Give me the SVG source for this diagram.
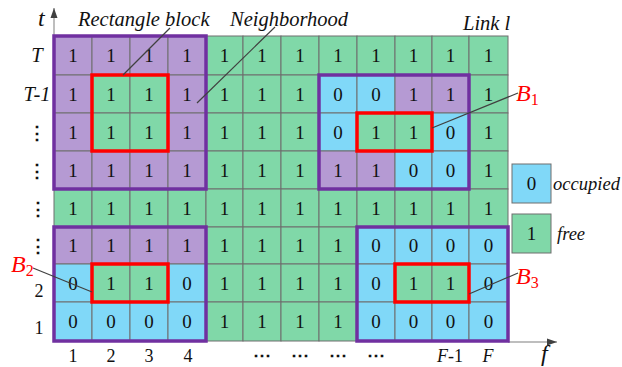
<svg xmlns="http://www.w3.org/2000/svg" width="622" height="367" viewBox="0 0 622 367">
  <defs>
    <style>
      .p { fill: #B59AD3; stroke: #6E6E6E; stroke-width: 1; }
      .g { fill: #80D8A8; stroke: #6E6E6E; stroke-width: 1; }
      .b { fill: #80D8F8; stroke: #6E6E6E; stroke-width: 1; }
      .v { font-family: "Liberation Serif", "Times New Roman", serif; font-size: 19px; fill: #111; text-anchor: middle; }
      .lab { font-family: "Liberation Serif", "Times New Roman", serif; font-size: 20.5px; font-style: italic; fill: #111; }
      .leg { font-family: "Liberation Serif", "Times New Roman", serif; font-size: 18.5px; font-style: italic; fill: #111; }
      .ax { font-family: "Liberation Serif", "Times New Roman", serif; font-size: 18px; fill: #111; text-anchor: middle; }
      .red { font-family: "Liberation Serif", "Times New Roman", serif; font-style: italic; font-size: 24px; fill: #FF0000; }
      .nb { fill: none; stroke: #7030A0; stroke-width: 3.5; }
      .rb { fill: none; stroke: #FF0000; stroke-width: 3.5; }
      .lead { stroke: #404040; stroke-width: 1.2; fill: none; }
      .axis { stroke: #A8A8A8; stroke-width: 1.5; fill: none; }
    </style>
    <marker id="arr" viewBox="0 0 10 10" refX="10" refY="5" markerWidth="10" markerHeight="10" markerUnits="userSpaceOnUse" orient="auto">
      <path d="M0,1.5 L10,5 L0,8.5 Z" fill="#404040"/>
    </marker>
  </defs>

  <!-- axes -->
  <g id="axes">
    <line class="axis" x1="54" y1="36" x2="54" y2="8" marker-end="url(#arr)"/>
    <line class="axis" x1="508" y1="342" x2="557" y2="342" marker-end="url(#arr)"/>
    <text class="lab" x="38" y="26" style="font-size:24px">t</text>
    <text class="lab" x="541" y="361" style="font-size:24px">f</text>
  </g>

  <!-- spectrum grid: rows T .. 1, columns 1 .. F -->
  <g id="grid">
    <g id="row-T">
      <rect class="p" x="54" y="36" width="38" height="39"/><text class="v" x="73" y="62">1</text>
      <rect class="p" x="92" y="36" width="38" height="39"/><text class="v" x="111" y="62">1</text>
      <rect class="p" x="130" y="36" width="38" height="39"/><text class="v" x="149" y="62">1</text>
      <rect class="p" x="168" y="36" width="38" height="39"/><text class="v" x="187" y="62">1</text>
      <rect class="g" x="206" y="36" width="37" height="39"/><text class="v" x="224.5" y="62">1</text>
      <rect class="g" x="243" y="36" width="38" height="39"/><text class="v" x="262" y="62">1</text>
      <rect class="g" x="281" y="36" width="38" height="39"/><text class="v" x="300" y="62">1</text>
      <rect class="g" x="319" y="36" width="38" height="39"/><text class="v" x="338" y="62">1</text>
      <rect class="g" x="357" y="36" width="38" height="39"/><text class="v" x="376" y="62">1</text>
      <rect class="g" x="395" y="36" width="37" height="39"/><text class="v" x="413.5" y="62">1</text>
      <rect class="g" x="432" y="36" width="37" height="39"/><text class="v" x="450.5" y="62">1</text>
      <rect class="g" x="469" y="36" width="39" height="39"/><text class="v" x="488.5" y="62">1</text>
    </g>
    <g id="row-T-1">
      <rect class="p" x="54" y="75" width="38" height="38"/><text class="v" x="73" y="101">1</text>
      <rect class="g" x="92" y="75" width="38" height="38"/><text class="v" x="111" y="101">1</text>
      <rect class="g" x="130" y="75" width="38" height="38"/><text class="v" x="149" y="101">1</text>
      <rect class="p" x="168" y="75" width="38" height="38"/><text class="v" x="187" y="101">1</text>
      <rect class="g" x="206" y="75" width="37" height="38"/><text class="v" x="224.5" y="101">1</text>
      <rect class="g" x="243" y="75" width="38" height="38"/><text class="v" x="262" y="101">1</text>
      <rect class="g" x="281" y="75" width="38" height="38"/><text class="v" x="300" y="101">1</text>
      <rect class="b" x="319" y="75" width="38" height="38"/><text class="v" x="338" y="101">0</text>
      <rect class="b" x="357" y="75" width="38" height="38"/><text class="v" x="376" y="101">0</text>
      <rect class="p" x="395" y="75" width="37" height="38"/><text class="v" x="413.5" y="101">1</text>
      <rect class="p" x="432" y="75" width="37" height="38"/><text class="v" x="450.5" y="101">1</text>
      <rect class="g" x="469" y="75" width="39" height="38"/><text class="v" x="488.5" y="101">1</text>
    </g>
    <g id="row-3">
      <rect class="p" x="54" y="113" width="38" height="38"/><text class="v" x="73" y="139">1</text>
      <rect class="g" x="92" y="113" width="38" height="38"/><text class="v" x="111" y="139">1</text>
      <rect class="g" x="130" y="113" width="38" height="38"/><text class="v" x="149" y="139">1</text>
      <rect class="p" x="168" y="113" width="38" height="38"/><text class="v" x="187" y="139">1</text>
      <rect class="g" x="206" y="113" width="37" height="38"/><text class="v" x="224.5" y="139">1</text>
      <rect class="g" x="243" y="113" width="38" height="38"/><text class="v" x="262" y="139">1</text>
      <rect class="g" x="281" y="113" width="38" height="38"/><text class="v" x="300" y="139">1</text>
      <rect class="b" x="319" y="113" width="38" height="38"/><text class="v" x="338" y="139">0</text>
      <rect class="g" x="357" y="113" width="38" height="38"/><text class="v" x="376" y="139">1</text>
      <rect class="g" x="395" y="113" width="37" height="38"/><text class="v" x="413.5" y="139">1</text>
      <rect class="b" x="432" y="113" width="37" height="38"/><text class="v" x="450.5" y="139">0</text>
      <rect class="g" x="469" y="113" width="39" height="38"/><text class="v" x="488.5" y="139">1</text>
    </g>
    <g id="row-4">
      <rect class="p" x="54" y="151" width="38" height="38"/><text class="v" x="73" y="177">1</text>
      <rect class="p" x="92" y="151" width="38" height="38"/><text class="v" x="111" y="177">1</text>
      <rect class="p" x="130" y="151" width="38" height="38"/><text class="v" x="149" y="177">1</text>
      <rect class="p" x="168" y="151" width="38" height="38"/><text class="v" x="187" y="177">1</text>
      <rect class="g" x="206" y="151" width="37" height="38"/><text class="v" x="224.5" y="177">1</text>
      <rect class="g" x="243" y="151" width="38" height="38"/><text class="v" x="262" y="177">1</text>
      <rect class="g" x="281" y="151" width="38" height="38"/><text class="v" x="300" y="177">1</text>
      <rect class="p" x="319" y="151" width="38" height="38"/><text class="v" x="338" y="177">1</text>
      <rect class="p" x="357" y="151" width="38" height="38"/><text class="v" x="376" y="177">1</text>
      <rect class="b" x="395" y="151" width="37" height="38"/><text class="v" x="413.5" y="177">0</text>
      <rect class="b" x="432" y="151" width="37" height="38"/><text class="v" x="450.5" y="177">0</text>
      <rect class="g" x="469" y="151" width="39" height="38"/><text class="v" x="488.5" y="177">1</text>
    </g>
    <g id="row-5">
      <rect class="g" x="54" y="189" width="38" height="38"/><text class="v" x="73" y="215">1</text>
      <rect class="g" x="92" y="189" width="38" height="38"/><text class="v" x="111" y="215">1</text>
      <rect class="g" x="130" y="189" width="38" height="38"/><text class="v" x="149" y="215">1</text>
      <rect class="g" x="168" y="189" width="38" height="38"/><text class="v" x="187" y="215">1</text>
      <rect class="g" x="206" y="189" width="37" height="38"/><text class="v" x="224.5" y="215">1</text>
      <rect class="g" x="243" y="189" width="38" height="38"/><text class="v" x="262" y="215">1</text>
      <rect class="g" x="281" y="189" width="38" height="38"/><text class="v" x="300" y="215">1</text>
      <rect class="g" x="319" y="189" width="38" height="38"/><text class="v" x="338" y="215">1</text>
      <rect class="g" x="357" y="189" width="38" height="38"/><text class="v" x="376" y="215">1</text>
      <rect class="g" x="395" y="189" width="37" height="38"/><text class="v" x="413.5" y="215">1</text>
      <rect class="g" x="432" y="189" width="37" height="38"/><text class="v" x="450.5" y="215">1</text>
      <rect class="g" x="469" y="189" width="39" height="38"/><text class="v" x="488.5" y="215">1</text>
    </g>
    <g id="row-6">
      <rect class="p" x="54" y="227" width="38" height="37"/><text class="v" x="73" y="252">1</text>
      <rect class="p" x="92" y="227" width="38" height="37"/><text class="v" x="111" y="252">1</text>
      <rect class="p" x="130" y="227" width="38" height="37"/><text class="v" x="149" y="252">1</text>
      <rect class="p" x="168" y="227" width="38" height="37"/><text class="v" x="187" y="252">1</text>
      <rect class="g" x="206" y="227" width="37" height="37"/><text class="v" x="224.5" y="252">1</text>
      <rect class="g" x="243" y="227" width="38" height="37"/><text class="v" x="262" y="252">1</text>
      <rect class="g" x="281" y="227" width="38" height="37"/><text class="v" x="300" y="252">1</text>
      <rect class="g" x="319" y="227" width="38" height="37"/><text class="v" x="338" y="252">1</text>
      <rect class="b" x="357" y="227" width="38" height="37"/><text class="v" x="376" y="252">0</text>
      <rect class="b" x="395" y="227" width="37" height="37"/><text class="v" x="413.5" y="252">0</text>
      <rect class="b" x="432" y="227" width="37" height="37"/><text class="v" x="450.5" y="252">0</text>
      <rect class="b" x="469" y="227" width="39" height="37"/><text class="v" x="488.5" y="252">0</text>
    </g>
    <g id="row-2">
      <rect class="b" x="54" y="264" width="38" height="38"/><text class="v" x="73" y="290">0</text>
      <rect class="g" x="92" y="264" width="38" height="38"/><text class="v" x="111" y="290">1</text>
      <rect class="g" x="130" y="264" width="38" height="38"/><text class="v" x="149" y="290">1</text>
      <rect class="b" x="168" y="264" width="38" height="38"/><text class="v" x="187" y="290">0</text>
      <rect class="g" x="206" y="264" width="37" height="38"/><text class="v" x="224.5" y="290">1</text>
      <rect class="g" x="243" y="264" width="38" height="38"/><text class="v" x="262" y="290">1</text>
      <rect class="g" x="281" y="264" width="38" height="38"/><text class="v" x="300" y="290">1</text>
      <rect class="g" x="319" y="264" width="38" height="38"/><text class="v" x="338" y="290">1</text>
      <rect class="b" x="357" y="264" width="38" height="38"/><text class="v" x="376" y="290">0</text>
      <rect class="g" x="395" y="264" width="37" height="38"/><text class="v" x="413.5" y="290">1</text>
      <rect class="g" x="432" y="264" width="37" height="38"/><text class="v" x="450.5" y="290">1</text>
      <rect class="b" x="469" y="264" width="39" height="38"/><text class="v" x="488.5" y="290">0</text>
    </g>
    <g id="row-1">
      <rect class="b" x="54" y="302" width="38" height="39"/><text class="v" x="73" y="328">0</text>
      <rect class="b" x="92" y="302" width="38" height="39"/><text class="v" x="111" y="328">0</text>
      <rect class="b" x="130" y="302" width="38" height="39"/><text class="v" x="149" y="328">0</text>
      <rect class="b" x="168" y="302" width="38" height="39"/><text class="v" x="187" y="328">0</text>
      <rect class="g" x="206" y="302" width="37" height="39"/><text class="v" x="224.5" y="328">1</text>
      <rect class="g" x="243" y="302" width="38" height="39"/><text class="v" x="262" y="328">1</text>
      <rect class="g" x="281" y="302" width="38" height="39"/><text class="v" x="300" y="328">1</text>
      <rect class="g" x="319" y="302" width="38" height="39"/><text class="v" x="338" y="328">1</text>
      <rect class="b" x="357" y="302" width="38" height="39"/><text class="v" x="376" y="328">0</text>
      <rect class="b" x="395" y="302" width="37" height="39"/><text class="v" x="413.5" y="328">0</text>
      <rect class="b" x="432" y="302" width="37" height="39"/><text class="v" x="450.5" y="328">0</text>
      <rect class="b" x="469" y="302" width="39" height="39"/><text class="v" x="488.5" y="328">0</text>
    </g>
  </g>

  <!-- neighborhoods (purple) and rectangle blocks (red) -->
  <g id="neighborhood-1"><rect class="nb" x="54" y="36" width="152" height="153"/></g>
  <g id="neighborhood-B1"><rect class="nb" x="319" y="75" width="150" height="114"/></g>
  <g id="neighborhood-B2"><rect class="nb" x="54" y="227" width="152" height="114"/></g>
  <g id="neighborhood-B3"><rect class="nb" x="357" y="227" width="151" height="114"/></g>
  <g id="block-1"><rect class="rb" x="92" y="75" width="76" height="76"/></g>
  <g id="block-B1"><rect class="rb" x="357" y="113" width="75" height="38"/></g>
  <g id="block-B2"><rect class="rb" x="92" y="264" width="76" height="38"/></g>
  <g id="block-B3"><rect class="rb" x="395" y="264" width="74" height="38"/></g>

  <!-- row labels -->
  <g id="row-labels">
    <text class="lab" x="37" y="62" text-anchor="middle">T</text>
    <text class="lab" x="37" y="101" text-anchor="middle">T-1</text>
    <text class="ax" x="37" y="139" font-weight="bold">⋮</text>
    <text class="ax" x="37" y="177" font-weight="bold">⋮</text>
    <text class="ax" x="38" y="215" font-weight="bold">⋮</text>
    <text class="ax" x="38" y="252" font-weight="bold">⋮</text>
    <text class="ax" x="39" y="297">2</text>
    <text class="ax" x="39" y="334">1</text>
  </g>

  <!-- column labels -->
  <g id="col-labels">
    <text class="ax" x="73" y="362">1</text>
    <text class="ax" x="111" y="362">2</text>
    <text class="ax" x="149" y="362">3</text>
    <text class="ax" x="188" y="362">4</text>
    <text class="ax" x="262" y="361" font-weight="bold">⋯</text>
    <text class="ax" x="300" y="361" font-weight="bold">⋯</text>
    <text class="ax" x="338" y="361" font-weight="bold">⋯</text>
    <text class="ax" x="376" y="361" font-weight="bold">⋯</text>
    <text class="ax" x="450" y="362"><tspan font-style="italic">F</tspan>-1</text>
    <text class="ax" x="488" y="362" font-style="italic">F</text>
  </g>

  <!-- annotations -->
  <g id="connectors">
    <line class="lead" x1="170" y1="28" x2="123" y2="75"/>
    <line class="lead" x1="275" y1="27" x2="197" y2="103"/>
    <line class="lead" x1="518" y1="93" x2="432" y2="128"/>
    <line class="lead" x1="33" y1="268" x2="92" y2="292"/>
    <line class="lead" x1="518" y1="273" x2="469" y2="294"/>
  </g>
  <g id="label-rect"><text class="lab" x="78" y="26">Rectangle block</text></g>
  <g id="label-neigh"><text class="lab" x="230" y="26">Neighborhood</text></g>
  <g id="label-link"><text class="lab" x="463" y="30">Link l</text></g>
  <g id="label-B1"><text class="red" x="516" y="101">B<tspan font-style="normal" font-size="16" dy="4">1</tspan></text></g>
  <g id="label-B2"><text class="red" x="11" y="272">B<tspan font-style="normal" font-size="16" dy="4">2</tspan></text></g>
  <g id="label-B3"><text class="red" x="516" y="284">B<tspan font-style="normal" font-size="16" dy="4">3</tspan></text></g>

  <!-- legend -->
  <g id="legend-occupied">
    <rect class="b" x="512" y="164" width="39" height="39"/>
    <text class="v" x="531.5" y="190">0</text>
    <text class="leg" x="553" y="190" textLength="67" lengthAdjust="spacingAndGlyphs">occupied</text>
  </g>
  <g id="legend-free">
    <rect class="g" x="512" y="214" width="39" height="39"/>
    <text class="v" x="531.5" y="240">1</text>
    <text class="leg" x="557" y="240">free</text>
  </g>
</svg>
